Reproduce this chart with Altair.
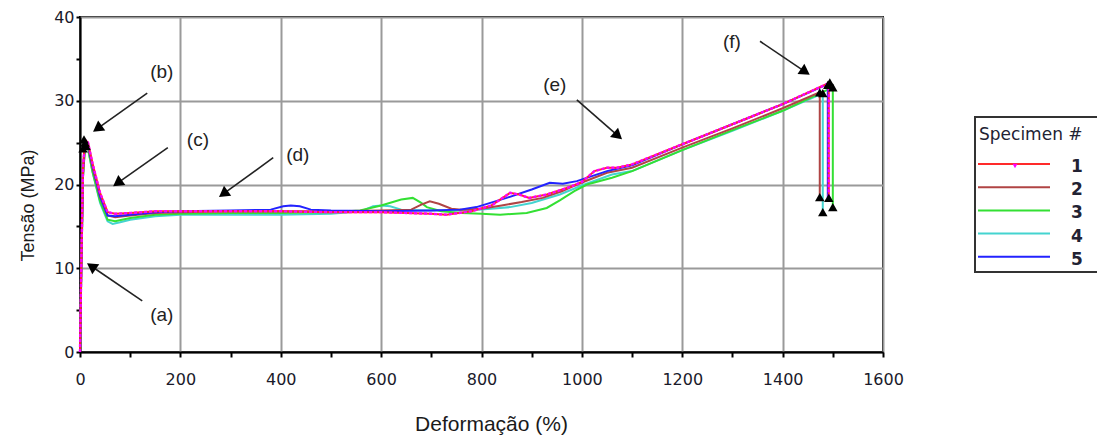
import math
import altair as alt
import pandas as pd

# ---------------- data ----------------
specimens = ["1", "2", "3", "4", "5"]
line_colors = ["#ff2a2a", "#b04444", "#33e033", "#44d4d0", "#2222ff"]

s1_x = [0, 3, 6, 10, 16, 25, 40, 55, 70, 100, 150, 200, 300, 400, 500, 600, 650, 700, 730, 780, 820, 857, 875, 895, 930, 976, 1000, 1025, 1050, 1070, 1100, 1200, 1300, 1400, 1492, 1492]
s1_y = [0, 12, 22, 25.3, 25.0, 22.5, 19.0, 16.7, 16.5, 16.6, 16.8, 16.8, 16.8, 16.8, 16.7, 16.7, 16.6, 16.5, 16.4, 16.8, 17.5, 19.0, 18.8, 18.4, 18.8, 19.7, 20.3, 21.6, 22.0, 22.0, 22.4, 24.8, 27.2, 29.6, 32.1, 18.5]

s2_x = [0, 3, 6, 10, 16, 25, 40, 55, 70, 100, 150, 200, 300, 400, 500, 600, 660, 680, 697, 715, 740, 760, 800, 840, 880, 922, 960, 990, 1050, 1100, 1200, 1300, 1400, 1474, 1474]
s2_y = [0, 11, 21, 24.8, 24.6, 22.0, 18.5, 16.3, 16.1, 16.3, 16.6, 16.7, 16.8, 16.8, 16.8, 16.9, 17.0, 17.6, 18.0, 17.7, 17.1, 17.0, 17.1, 17.5, 17.9, 18.4, 19.2, 20.0, 21.4, 22.0, 24.4, 26.7, 29.1, 31.0, 18.5]

s3_x = [0, 3, 6, 10, 16, 25, 40, 55, 70, 100, 150, 200, 300, 400, 500, 558, 600, 640, 663, 680, 691, 720, 760, 800, 837, 890, 930, 956, 985, 1010, 1060, 1100, 1200, 1300, 1400, 1500, 1500]
s3_y = [0, 11, 21, 24.6, 24.3, 21.5, 18.0, 15.8, 15.6, 16.0, 16.4, 16.5, 16.6, 16.6, 16.7, 16.9, 17.5, 18.2, 18.4, 17.8, 17.3, 16.8, 16.6, 16.5, 16.4, 16.6, 17.2, 18.1, 19.2, 20.0, 20.8, 21.6, 24.1, 26.5, 28.8, 31.6, 17.3]

s4_x = [0, 3, 6, 10, 16, 25, 40, 55, 65, 80, 100, 150, 200, 300, 400, 500, 560, 584, 600, 618, 640, 700, 760, 800, 857, 900, 956, 1005, 1060, 1100, 1200, 1300, 1400, 1480, 1480]
s4_y = [0, 11, 21, 24.4, 24.2, 21.5, 17.8, 15.6, 15.3, 15.5, 15.8, 16.2, 16.4, 16.4, 16.4, 16.5, 16.8, 17.4, 17.5, 17.4, 17.0, 16.9, 16.9, 17.0, 17.3, 17.8, 18.8, 20.0, 21.2, 21.6, 24.1, 26.4, 28.8, 30.9, 16.7]

s5_x = [0, 3, 6, 10, 16, 25, 40, 55, 70, 100, 150, 200, 300, 380, 405, 420, 438, 460, 500, 600, 700, 757, 790, 850, 900, 936, 962, 990, 1050, 1100, 1200, 1300, 1400, 1490, 1490]
s5_y = [0, 12, 22, 25.0, 24.8, 22.2, 18.6, 16.3, 16.2, 16.4, 16.7, 16.8, 16.9, 17.0, 17.4, 17.5, 17.4, 17.0, 16.9, 16.8, 16.9, 17.0, 17.3, 18.4, 19.4, 20.2, 20.1, 20.4, 21.6, 22.3, 24.8, 27.2, 29.6, 32.0, 18.4]

# black triangle markers (yield peaks and break points)
marker_x = [6, 8, 10, 12, 1474, 1480, 1490, 1494, 1500, 1474, 1480, 1492, 1500]
marker_y = [24.3, 25.4, 25.0, 24.6, 31.0, 30.9, 31.9, 32.2, 31.6, 18.5, 16.7, 18.4, 17.3]

# annotations
ann_labels = ["(a)", "(b)", "(c)", "(d)", "(e)", "(f)"]
ann_label_x = [163, 163, 235, 434, 946, 1299]
ann_label_y = [4.4, 33.4, 25.3, 23.5, 31.9, 37.0]
arrow_tail_x = [124, 134, 175, 385, 990, 1355]
arrow_tail_y = [6.1, 30.9, 24.4, 23.2, 30.1, 37.1]
arrow_tip_x = [14, 26, 66, 277, 1080, 1454]
arrow_tip_y = [10.6, 26.3, 19.8, 18.5, 25.4, 33.1]

x_ticks = list(range(0, 1601, 100))
y_ticks = list(range(0, 41, 5))

# ---------------- layout constants ----------------
W, H = 803, 335
X_MAX, Y_MAX = 1600, 40
SX, SY = W / X_MAX, H / Y_MAX

series = {"1": (s1_x, s1_y), "2": (s2_x, s2_y), "3": (s3_x, s3_y), "4": (s4_x, s4_y), "5": (s5_x, s5_y)}
color_of = dict(zip(specimens, line_colors))

xscale = alt.Scale(domain=[0, X_MAX], nice=False, zero=False)
yscale = alt.Scale(domain=[0, Y_MAX], nice=False, zero=False)

x_axis = alt.Axis(
    values=x_ticks, format="d", title="Deformação (%)",
    labelExpr="datum.value % 200 == 0 ? datum.label : ''",
    gridOpacity={"condition": {"test": "datum.value % 200 == 0", "value": 1}, "value": 0},
    tickSize=5, labelPadding=14, titlePadding=26, labelFlush=False,
    titleFontSize=21, titleX=411,
)
y_axis = alt.Axis(
    values=y_ticks, format="d", title="Tensão (MPa)",
    labelExpr="datum.value % 10 == 0 ? datum.label : ''",
    gridOpacity={"condition": {"test": "datum.value % 10 == 0", "value": 1}, "value": 0},
    tickSize=4, labelPadding=2, titlePadding=16, labelFlush=False,
    titleY=188,
)


def X(field):
    return alt.X(field, scale=xscale, axis=x_axis)


def Y(field):
    return alt.Y(field, scale=yscale, axis=y_axis)


def series_df(sid):
    xs, ys = series[sid]
    return pd.DataFrame({"x": xs, "y": ys, "order": list(range(len(xs))), "specimen": sid})


layers = []
for sid in ["4", "3", "2", "5", "1"]:
    layers.append(
        alt.Chart(series_df(sid)).mark_line(strokeWidth=2, color=color_of[sid]).encode(
            x=X("x:Q"), y=Y("y:Q"), order="order:Q"
        )
    )
    if sid == "1":
        layers.append(
            alt.Chart(series_df(sid)).mark_line(strokeWidth=2.4, color="#ff00ff", strokeDash=[3, 2]).encode(
                x=X("x:Q"), y=Y("y:Q"), order="order:Q"
            )
        )

# markers
mk = pd.DataFrame({"x": marker_x, "y": marker_y})
layers.append(
    alt.Chart(mk).mark_point(shape="triangle-up", filled=True, color="black", opacity=1, size=90).encode(
        x=X("x:Q"), y=Y("y:Q")
    )
)

# arrows
HEAD = 150
head_h = math.sqrt(3) / 2 * math.sqrt(HEAD) / 2
hx, hy, ang = [], [], []
for tx, ty, px, py in zip(arrow_tail_x, arrow_tail_y, arrow_tip_x, arrow_tip_y):
    dxp = (px - tx) * SX
    dyp = -(py - ty) * SY
    L = math.hypot(dxp, dyp)
    ux, uy = dxp / L, dyp / L
    hx.append(px - ux * head_h / SX)
    hy.append(py + uy * head_h / SY)
    ang.append(math.degrees(math.atan2(dxp, -dyp)) % 360)

arr = pd.DataFrame({"x": arrow_tail_x, "y": arrow_tail_y, "x2": hx, "y2": hy, "angle": ang})
layers.append(
    alt.Chart(arr).mark_rule(color="#222222", strokeWidth=1.6).encode(
        x=X("x:Q"), y=Y("y:Q"), x2="x2:Q", y2="y2:Q"
    )
)
layers.append(
    alt.Chart(arr).mark_point(shape="triangle-up", filled=True, color="black", opacity=1, size=HEAD).encode(
        x=X("x2:Q"), y=Y("y2:Q"), angle=alt.Angle("angle:Q", scale=None)
    )
)

lab = pd.DataFrame({"x": ann_label_x, "y": ann_label_y, "t": ann_labels})
layers.append(
    alt.Chart(lab).mark_text(font="Liberation Sans", fontSize=19, color="#222222").encode(
        x=X("x:Q"), y=Y("y:Q"), text="t:N"
    )
)

# ---------------- manual legend (outside plot area) ----------------
one = pd.DataFrame({"k": [0]})
LX0, LY0 = 895, 100
layers.append(
    alt.Chart(one).mark_rect(fill="white", stroke="#333333", strokeWidth=2).encode(
        x=alt.value(LX0), x2=alt.value(LX0 + 140), y=alt.value(LY0), y2=alt.value(LY0 + 155)
    )
)
layers.append(
    alt.Chart(one).mark_text(text="Specimen #", font="DejaVu Sans", fontSize=17, align="left", baseline="middle", color="#222233").encode(
        x=alt.value(LX0 + 4), y=alt.value(LY0 + 18)
    )
)
for i, sid in enumerate(specimens):
    yy = LY0 + 47 + i * 23.2
    layers.append(
        alt.Chart(one).mark_rule(color=color_of[sid], strokeWidth=2).encode(
            x=alt.value(LX0 + 3), x2=alt.value(LX0 + 75), y=alt.value(yy)
        )
    )
    layers.append(
        alt.Chart(one).mark_text(text=sid, font="DejaVu Sans", fontSize=17, fontWeight="bold", align="center", baseline="middle", color="#222233").encode(
            x=alt.value(LX0 + 102), y=alt.value(yy + 3)
        )
    )
    if sid == "1":
        layers.append(
            alt.Chart(one).mark_point(shape="triangle-down", filled=True, color="#ff00ff", opacity=1, size=25).encode(
                x=alt.value(LX0 + 40), y=alt.value(yy + 2)
            )
        )

chart = (
    alt.layer(*layers)
    .properties(
        width=W, height=H,
        autosize=alt.AutoSizeParams(type="none"),
        padding={"left": 80, "top": 17, "right": 214, "bottom": 87},
        background="white",
    )
    .configure_view(stroke="black", strokeWidth=2)
    .configure_axis(
        domainColor="black", domainWidth=2, tickColor="black", tickWidth=2,
        gridColor="#9a9a9a", gridWidth=2,
        labelFont="DejaVu Sans", labelFontSize=16, labelColor="#1a1a2a",
        titleFont="Liberation Sans", titleFontSize=18, titleFontWeight="normal", titleColor="#1a1a1a",
    )
)

chart.save("out.html", embed_options={"renderer": "svg", "actions": False})
